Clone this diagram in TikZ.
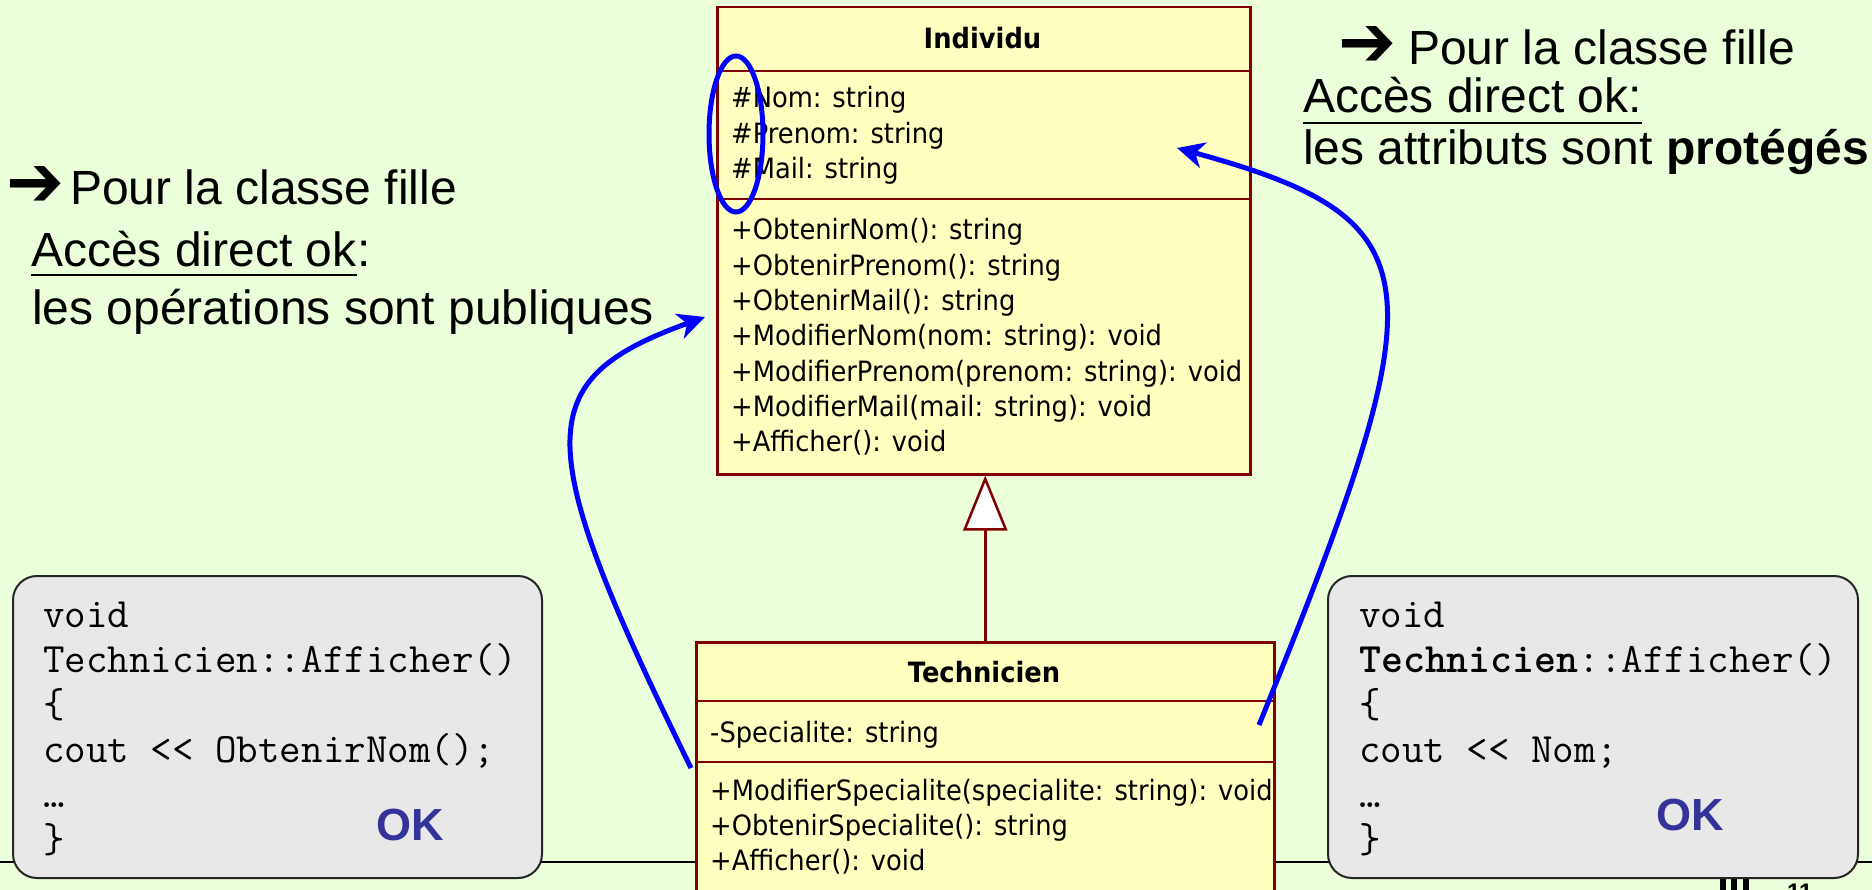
\documentclass[tikz,border=0pt]{standalone}
\usepackage{fontspec}
\usepackage{graphicx}
\setmainfont{Liberation Sans}
\newfontfamily\umlf[FakeStretch=0.92]{DejaVu Sans}
\newfontfamily\dvs{DejaVu Sans}
\usetikzlibrary{arrows.meta,shapes.geometric}
\definecolor{bg}{RGB}{234,255,218}
\definecolor{umlfill}{RGB}{255,255,192}
\definecolor{umlline}{RGB}{128,0,0}
\definecolor{codefill}{RGB}{232,232,232}
\definecolor{okblue}{RGB}{51,51,153}
\definecolor{arrblue}{RGB}{0,0,255}
\tikzset{
 umlbox/.style={draw=umlline, fill=umlfill, line width=2.5pt, inner sep=0, anchor=north west},
 umlsep/.style={draw=umlline, line width=2.5pt},
 umltxt/.style={inner sep=0, anchor=base west, font=\umlf\fontsize{28}{34}\selectfont},
 umltitle/.style={inner sep=0, anchor=base, font=\umlf\bfseries\fontsize{28}{34}\selectfont},
 codebox/.style={draw=black!85, fill=codefill, line width=2pt, rounded corners=24pt, inner sep=0, anchor=north west},
 codetxt/.style={inner sep=0, anchor=base west, font=\ttfamily\fontsize{41.8}{45}\selectfont},
 maintxt/.style={inner sep=0, anchor=base west, font=\fontsize{48}{56}\selectfont},
 arrtxt/.style={inner sep=0, anchor=base west, font=\dvs\bfseries\fontsize{48}{56}\selectfont},
 oktxt/.style={inner sep=0, text=okblue, font=\bfseries\fontsize{45}{54}\selectfont},
 blueline/.style={draw=arrblue, line width=5pt, -{Stealth[length=27pt,width=26pt,inset=8pt]}},
 uline/.style={draw=black, line width=2.5pt},
}
\newcommand{\bigarr}{\raisebox{-2pt}{\resizebox{58pt}{40pt}{➔}}}
\begin{document}
\begin{tikzpicture}[x=1pt,y=-1pt]
\useasboundingbox (0,0) rectangle (1872,890);
\clip (0,0) rectangle (1872,890);
\fill[bg] (0,0) rectangle (1872,890);
% footer line
\coordinate (fl) at (0,862);
\coordinate (fr) at (1872,862);
\draw[black, line width=2.5pt] (fl) -- (fr);
% bottom right partial logo / page number
\fill[black] (1720,879) rectangle (1726,892);
\fill[black] (1731,879) rectangle (1737,892);
\fill[black] (1743,879) rectangle (1749,892);
\node[inner sep=0, anchor=base west, font=\bfseries\fontsize{24}{28}\selectfont] (pg) at (1787,900) {11};

% Individu
\node[umlbox, minimum width=533, minimum height=467] (ind) at (716,6) {};
\draw[umlsep] (ind.west |- 0,71) -- (ind.east |- 0,71);
\draw[umlsep] (ind.west |- 0,199) -- (ind.east |- 0,199);
\node[umltitle] (indt) at (982.5,49) {Individu};
\node[umltxt] (ia1) at (731,108) {\#Nom: string};
\node[umltxt] (ia2) at (731,143.5) {\#Prenom: string};
\node[umltxt] (ia3) at (731,179) {\#Mail: string};
\foreach \t [count=\i from 0] in {+ObtenirNom(): string,+ObtenirPrenom(): string,+ObtenirMail(): string,+ModifierNom(nom: string): void,+ModifierPrenom(prenom: string): void,+ModifierMail(mail: string): void,+Afficher(): void}
  \node[umltxt] (io\i) at (731,240+35.3*\i) {\t};

% Technicien
\node[umlbox, minimum width=578, minimum height=300] (tec) at (695,641) {};
\draw[umlsep] (tec.west |- 0,701) -- (tec.east |- 0,701);
\draw[umlsep] (tec.west |- 0,762) -- (tec.east |- 0,762);
\node[umltitle] (tect) at (984,682) {Technicien};
\node[umltxt] (ta1) at (710,742) {-Specialite: string};
\foreach \t [count=\i from 0] in {+ModifierSpecialite(specialite: string): void,+ObtenirSpecialite(): string,+Afficher(): void}
  \node[umltxt] (to\i) at (710,800+35.3*\i) {\t};

% generalization
\draw[umlline, line width=2.5pt, line join=miter, -{Triangle[length=55pt,width=44pt,fill=white]}] (tec.north) -- (tec.north |- ind.south);

% code boxes
\node[codebox, minimum width=529, minimum height=302] (cl) at (12,575) {};
\node[codebox, minimum width=530, minimum height=302] (cr) at (1327,575) {};
\foreach \t [count=\i from 0] in {void,Technicien::Afficher(),\{,cout <\kern0pt< ObtenirNom();,…,\}}
  \node[codetxt] (cl\i) at (43,627+45*\i) {\t};
\foreach \t [count=\i from 0] in {void,\textbf{Technicien}::Afficher(),\{,cout <\kern0pt< Nom;,…,\}}
  \node[codetxt] (cr\i) at (1359,627+45*\i) {\t};
\node[oktxt] (okl) at (410,825) {OK};
\node[oktxt] (okr) at (1690,815) {OK};

% left text
\node[arrtxt] (l1a) at (6,205) {\bigarr};
\node[maintxt] (l1) at (70,205) {Pour la classe fille};
\node[maintxt] (l2) at (31,267) {Accès direct ok};
\node[maintxt, anchor=base west] (l2c) at (l2.base east) {:};
\draw[uline] ([yshift=-8pt]l2.base west) -- ([yshift=-8pt]l2.base east);
\node[maintxt] (l3) at (32,325) {les opérations sont publiques};

% right text
\node[arrtxt] (r1a) at (1338,65) {\bigarr};
\node[maintxt] (r1) at (1408,65) {Pour la classe fille};
\node[maintxt] (r2) at (1303,113) {Accès direct ok:};
\draw[uline] ([yshift=-10pt]r2.base west) -- ([yshift=-10pt]r2.base east);
\node[maintxt] (r3) at (1303,165) {les attributs sont \textbf{protégés}};

% blue ellipse and arrows
\node[draw=arrblue, line width=5pt, ellipse, minimum width=54, minimum height=156, inner sep=0] (circ) at (736,134) {};
\coordinate (a1s) at (691,768);
\coordinate (a1e) at (705,317);
\draw[blueline] (a1s) .. controls (530,440) and (530,380) .. (a1e);
\coordinate (a2s) at (1259,725);
\coordinate (a2e) at (1177,148);
\draw[blueline] (a2s) .. controls (1440,280) and (1440,220) .. (a2e);
\end{tikzpicture}
\end{document}
